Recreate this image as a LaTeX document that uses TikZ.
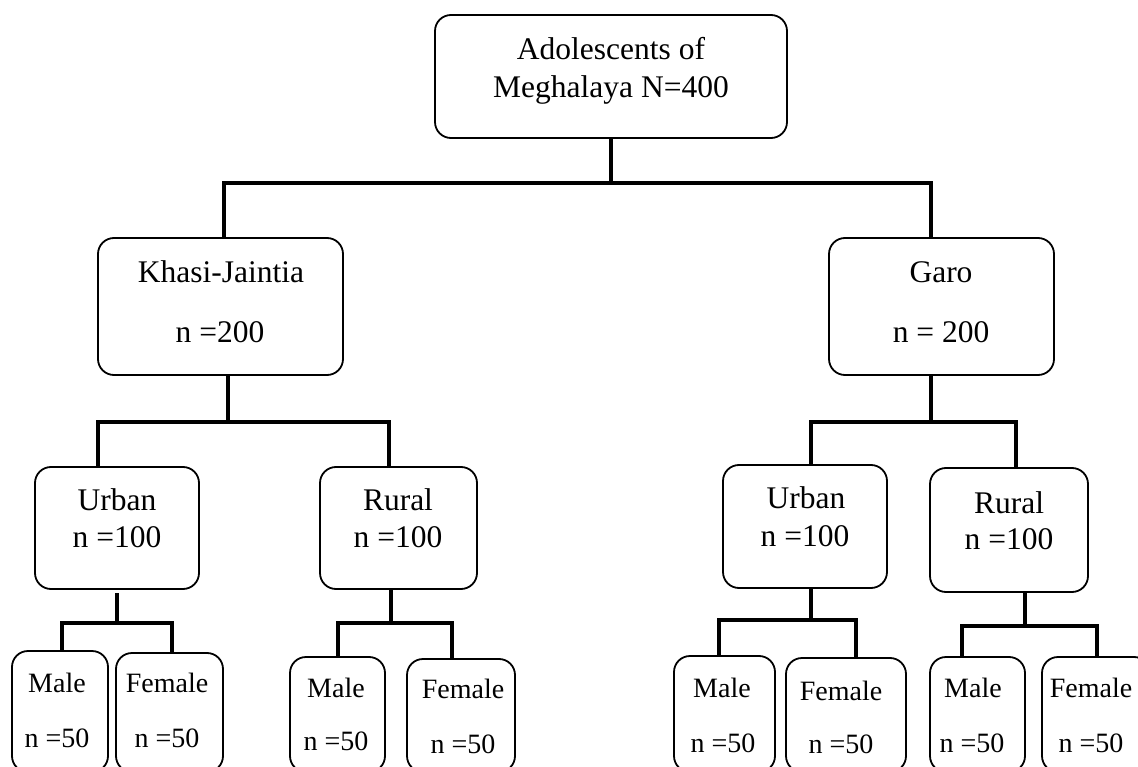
\documentclass[tikz,border=0pt]{standalone}
\usepackage{fontspec}
\setmainfont{Liberation Serif}
\begin{document}
\begin{tikzpicture}[x=1pt,y=-1pt,
  box/.style={draw, line width=1.8pt, rounded corners=16pt, inner sep=0pt, outer sep=0pt},
  conn/.style={line width=4pt},
  big/.style={font=\fontsize{31.5}{38}\selectfont, anchor=base, inner sep=0pt},
  small/.style={font=\fontsize{28}{34}\selectfont, anchor=base, inner sep=0pt}]
\useasboundingbox (0,0) rectangle (1138,767);
\clip (0,0) rectangle (1138,767);

% boxes
\node[box, minimum width=352pt, minimum height=123pt] (root) at (611,76.5) {};
\node[box, minimum width=245pt, minimum height=137pt] (kj) at (220.5,306.5) {};
\node[box, minimum width=225pt, minimum height=137pt] (garo) at (941.5,306.5) {};
\node[box, minimum width=164pt, minimum height=122pt] (kju) at (117,528) {};
\node[box, minimum width=157pt, minimum height=122pt] (kjr) at (398.5,528) {};
\node[box, minimum width=164pt, minimum height=123pt] (gu) at (805,526.5) {};
\node[box, minimum width=158pt, minimum height=124pt] (gr) at (1009,530) {};
\node[box, minimum width=96pt, minimum height=121pt] (kjum) at (60,711.5) {};
\node[box, minimum width=107pt, minimum height=119pt] (kjuf) at (169.5,712.5) {};
\node[box, minimum width=95pt, minimum height=115pt] (kjrm) at (337.5,714.5) {};
\node[box, minimum width=108pt, minimum height=113pt] (kjrf) at (461,715.5) {};
\node[box, minimum width=101pt, minimum height=116pt] (gum) at (724.5,714) {};
\node[box, minimum width=120pt, minimum height=114pt] (guf) at (846,715) {};
\node[box, minimum width=95pt, minimum height=115pt] (grm) at (977.5,714.5) {};
\node[box, minimum width=108pt, minimum height=115pt] (grf) at (1096,714.5) {};

% texts
\node[big] (t1) at (611,60) {Adolescents of};
\node[big] (t2) at (611,98) {Meghalaya N=400};
\node[big] (t3) at (221,283) {Khasi-Jaintia};
\node[big] (t4) at (220,342) {n =200};
\node[big] (t5) at (941,283) {Garo};
\node[big] (t6) at (941,342) {n = 200};
\node[big] (t7) at (117,510) {Urban};
\node[big] (t8) at (117,547) {n =100};
\node[big] (t9) at (398,510) {Rural};
\node[big] (t10) at (398,547) {n =100};
\node[big] (t11) at (806,508) {Urban};
\node[big] (t12) at (805,546) {n =100};
\node[big] (t13) at (1009,513) {Rural};
\node[big] (t14) at (1009,549) {n =100};
\node[small] (t15) at (57,692) {Male};
\node[small] (t16) at (57,747) {n =50};
\node[small] (t17) at (167,692) {Female};
\node[small] (t18) at (167,747) {n =50};
\node[small] (t19) at (336,697) {Male};
\node[small] (t20) at (336,750) {n =50};
\node[small] (t21) at (463,698) {Female};
\node[small] (t22) at (463,753) {n =50};
\node[small] (t23) at (722,697) {Male};
\node[small] (t24) at (723,752) {n =50};
\node[small] (t25) at (841,700) {Female};
\node[small] (t26) at (841,753) {n =50};
\node[small] (t27) at (973,697) {Male};
\node[small] (t28) at (972,752) {n =50};
\node[small] (t29) at (1091,697) {Female};
\node[small] (t30) at (1091,752) {n =50};

% connectors
\coordinate (j0) at (611,183);
\draw[conn] (root.south) -- (j0);
\draw[conn] ([xshift=3.5pt]kj.north) |- (j0) -| ([xshift=-10.5pt]garo.north);

\coordinate (j1) at (228,422);
\draw[conn] ([xshift=7.5pt]kj.south) -- (j1);
\draw[conn] ([xshift=-19pt]kju.north) |- (j1) -| ([xshift=-9.5pt]kjr.north);

\coordinate (j2) at (931,422);
\draw[conn] ([xshift=-10.5pt]garo.south) -- (j2);
\draw[conn] ([xshift=6pt]gu.north) |- (j2) -| ([xshift=7pt]gr.north);

\coordinate (j3) at (117,623);
\draw[conn, shorten <=4pt] (kju.south) -- (j3);
\draw[conn] ([xshift=2pt]kjum.north) |- (j3) -| ([xshift=2.5pt]kjuf.north);

\coordinate (j4) at (391,623);
\draw[conn] ([xshift=-7.5pt]kjr.south) -- (j4);
\draw[conn] ([xshift=0.5pt]kjrm.north) |- (j4) -| ([xshift=-9pt]kjrf.north);

\coordinate (j5) at (811,620);
\draw[conn] ([xshift=6pt]gu.south) -- (j5);
\draw[conn] ([xshift=-5.5pt]gum.north) |- (j5) -| ([xshift=10pt]guf.north);

\coordinate (j6) at (1025,626);
\draw[conn] ([xshift=16pt]gr.south) -- (j6);
\draw[conn] ([xshift=-15.5pt]grm.north) |- (j6) -| ([xshift=1pt]grf.north);
\end{tikzpicture}
\end{document}
